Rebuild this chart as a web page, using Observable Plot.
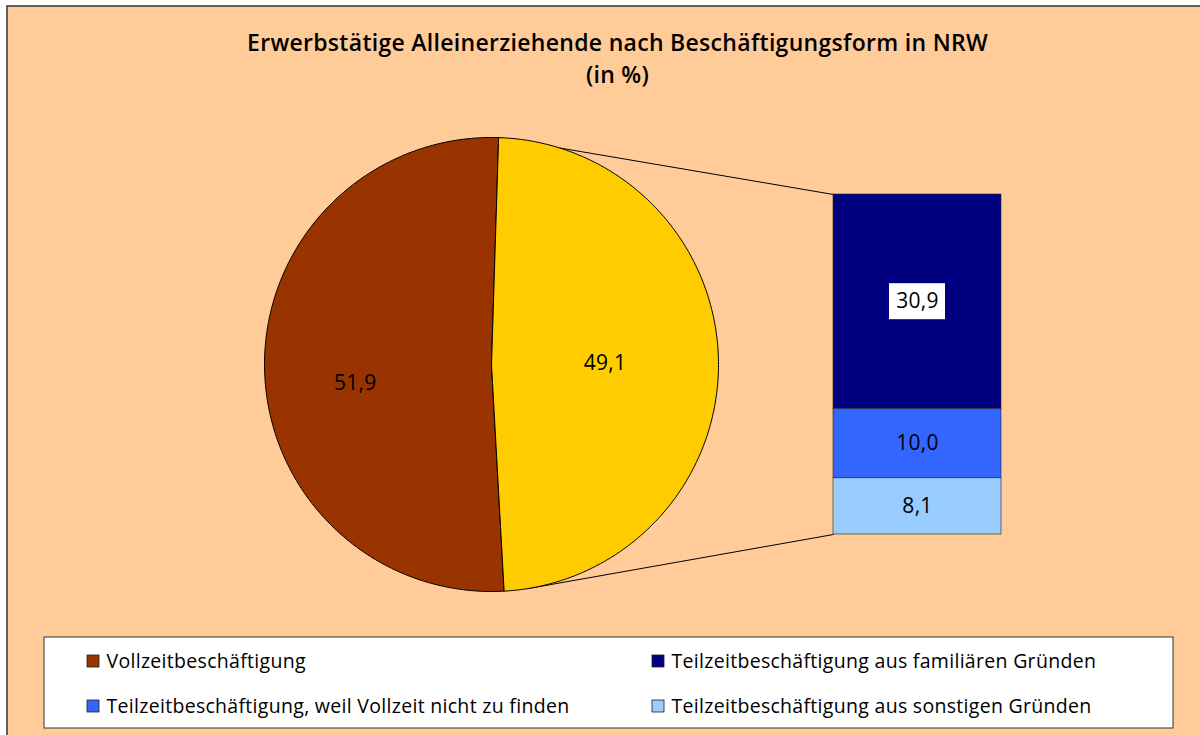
<!DOCTYPE html>
<html>
<head>
<meta charset="utf-8">
<script src="https://cdn.jsdelivr.net/npm/d3@7"></script>
<script src="https://cdn.jsdelivr.net/npm/@observablehq/plot@0.6"></script>
<style>
  html, body { margin: 0; padding: 0; background: white; }
  #chart text { letter-spacing: 0.3px; }
</style>
</head>
<body>
<div id="chart"></div>
<script>
// ---- data ----
const title = "Erwerbstätige Alleinerziehende nach Beschäftigungsform in NRW";
const subtitle = "(in %)";
const pieCategories = ["Vollzeitbeschäftigung", "Teilzeitbeschäftigung"];
const pieValues = [51.9, 49.1];
const pieLabels = ["51,9", "49,1"];
const barCategories = [
  "Teilzeitbeschäftigung aus familiären Gründen",
  "Teilzeitbeschäftigung, weil Vollzeit nicht zu finden",
  "Teilzeitbeschäftigung aus sonstigen Gründen"
];
const barValues = [30.9, 10.0, 8.1];
const barLabels = ["30,9", "10,0", "8,1"];
const legendOrder = [
  "Vollzeitbeschäftigung",
  "Teilzeitbeschäftigung aus familiären Gründen",
  "Teilzeitbeschäftigung, weil Vollzeit nicht zu finden",
  "Teilzeitbeschäftigung aus sonstigen Gründen"
];

// ---- styles / layout ----
const colors = {
  "Vollzeitbeschäftigung": "#993300",
  "Teilzeitbeschäftigung": "#FFCC00",
  "Teilzeitbeschäftigung aus familiären Gründen": "#000080",
  "Teilzeitbeschäftigung, weil Vollzeit nicht zu finden": "#3366FF",
  "Teilzeitbeschäftigung aus sonstigen Gründen": "#99CCFF"
};
const W = 1200, H = 735;
const font = "'Open Sans', 'DejaVu Sans', sans-serif";
const pie = {cx: 491, cy: 364, r: 227, startDeg: 1.8};
const labelRadius = [0.6, 0.5];
const labelDy = [17, 0];
const bar = {x1: 833, x2: 1001, top: 194, height: 340};

// ---- pie geometry (from values) ----
const total = d3.sum(pieValues);
const toRad = d => d * Math.PI / 180;
// yellow (index 1) starts at startDeg clockwise from top, then brown follows
const order = [1, 0];
let acc = pie.startDeg;
const slices = [];
for (const i of order) {
  const span = pieValues[i] / total * 360;
  slices[i] = {i, a0: acc, a1: acc + span};
  acc += span;
}
const pt = (deg, rr) => ({x: pie.cx + rr * Math.sin(toRad(deg)), y: pie.cy - rr * Math.cos(toRad(deg))});
const piePoints = [];
slices.forEach(s => {
  const cat = pieCategories[s.i];
  piePoints.push({cat, ...pt(0, 0)});
  const n = 240;
  for (let k = 0; k <= n; k++) {
    const a = s.a0 + (s.a1 - s.a0) * k / n;
    piePoints.push({cat, ...pt(a, pie.r)});
  }
  piePoints.push({cat, ...pt(0, 0)});
});
const pieText = slices.map(s => {
  const mid = (s.a0 + s.a1) / 2;
  const p = pt(mid, pie.r * labelRadius[s.i]);
  return {label: pieLabels[s.i], x: p.x, y: p.y + labelDy[s.i]};
});

// ---- bar geometry (from values) ----
const barTotal = d3.sum(barValues);
const unit = bar.height / barTotal;
let yAcc = bar.top;
const barRects = barValues.map((v, i) => {
  const r = {cat: barCategories[i], label: barLabels[i], y1: yAcc, y2: yAcc + v * unit};
  yAcc += v * unit;
  return r;
});

// connector lines
const ys = slices[1];
const pA = pt(ys.a0, pie.r), pB = pt(ys.a1 - 6.5, pie.r);
const connectors = [
  {xa: pA.x, ya: pA.y, xb: bar.x1, yb: bar.top},
  {xa: pB.x, ya: pB.y, xb: bar.x1, yb: bar.top + bar.height}
];

// legend
const legendBox = {x1: 44, x2: 1173, y1: 637, y2: 728};
const legendItems = legendOrder.map((cat, i) => ({
  cat,
  x: i % 2 === 0 ? 87 : 652,
  y: i < 2 ? 661 : 706
}));

const chart = Plot.plot({
  width: W,
  height: H,
  margin: 0,
  x: {domain: [0, W], range: [0, W], axis: null},
  y: {domain: [0, H], range: [0, H], axis: null},
  style: {background: "white", fontFamily: font},
  marks: [
    // chart area
    Plot.rect([0], {x1: 7, x2: W + 5, y1: 6, y2: H + 5, fill: "#FFCC99", stroke: "#333", strokeWidth: 1.5}),
    // title + subtitle (two lines)
    Plot.text([title + "\n" + subtitle], {x: 617, y: 56, text: d => d, lineHeight: 1.4, fontSize: 23, fontWeight: 600, fill: "black"}),
    // connectors
    Plot.link(connectors, {x1: "xa", y1: "ya", x2: "xb", y2: "yb", stroke: "black", strokeWidth: 1}),
    // pie
    Plot.line(piePoints, {x: "x", y: "y", z: "cat", fill: d => colors[d.cat], stroke: "black", strokeWidth: 1, curve: "linear"}),
    Plot.text(pieText, {x: "x", y: "y", text: "label", fontSize: 21, fill: "black"}),
    // bar
    Plot.rect(barRects, {x1: bar.x1, x2: bar.x2, y1: "y1", y2: "y2", fill: d => colors[d.cat], stroke: "#222", strokeWidth: 0.6}),
    Plot.rect(barRects.slice(0, 1), {x1: (bar.x1 + bar.x2) / 2 - 28, x2: (bar.x1 + bar.x2) / 2 + 28, y1: d => (d.y1 + d.y2) / 2 - 18, y2: d => (d.y1 + d.y2) / 2 + 18, fill: "white"}),
    Plot.text(barRects, {x: (bar.x1 + bar.x2) / 2, y: d => (d.y1 + d.y2) / 2, text: "label", fontSize: 21, fill: "black"}),
    // legend
    Plot.rect([0], {x1: legendBox.x1, x2: legendBox.x2, y1: legendBox.y1, y2: legendBox.y2, fill: "white", stroke: "#333", strokeWidth: 1}),
    Plot.rect(legendItems, {x1: d => d.x, x2: d => d.x + 12, y1: d => d.y - 6, y2: d => d.y + 6, fill: d => colors[d.cat], stroke: "#222", strokeWidth: 0.8}),
    Plot.text(legendItems, {x: d => d.x + 19, y: "y", text: "cat", textAnchor: "start", fontSize: 19.5, fill: "black"})
  ]
});
document.getElementById("chart").appendChild(chart);
</script>
</body>
</html>
